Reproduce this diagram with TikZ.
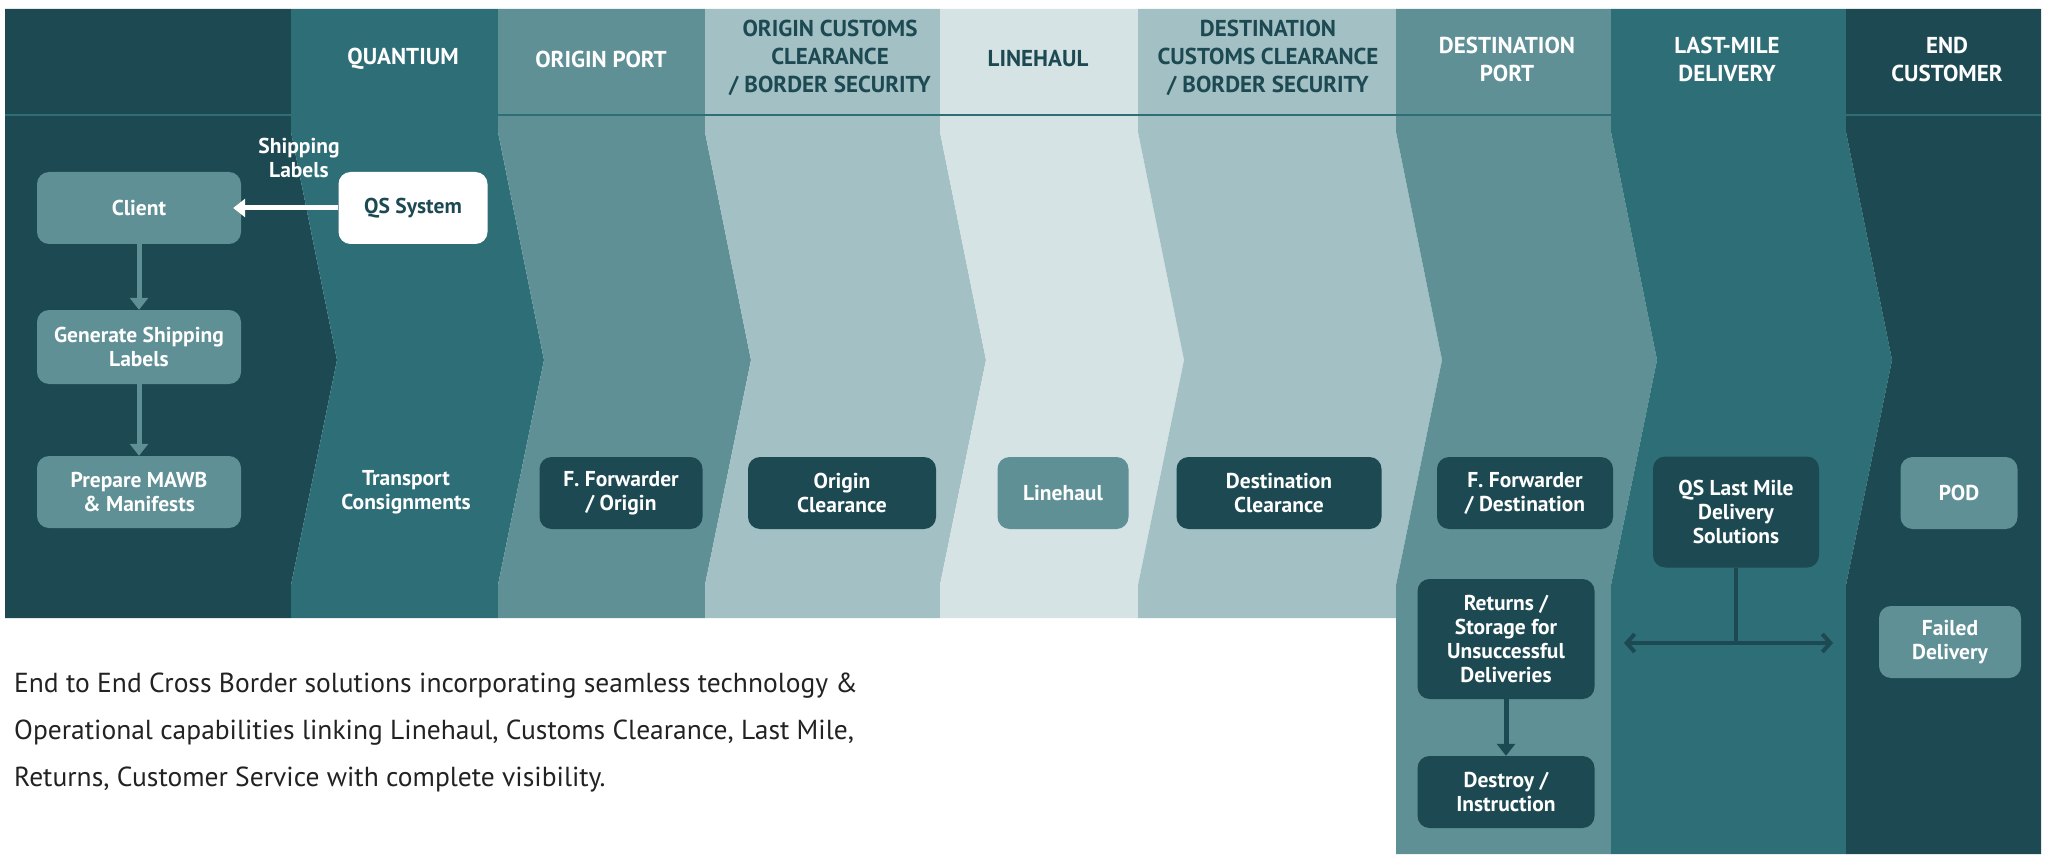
\documentclass[tikz,border=0pt]{standalone}
\usepackage{fontspec}
\setmainfont{PT Sans}
\usetikzlibrary{arrows.meta}
\definecolor{c1}{HTML}{1D4A52}
\definecolor{c2}{HTML}{2E6E77}
\definecolor{c3}{HTML}{5F9096}
\definecolor{c4}{HTML}{A3C0C4}
\definecolor{c5}{HTML}{D6E3E5}
\definecolor{txt}{HTML}{222222}
\begin{document}
\begin{tikzpicture}[x=1pt,y=-1pt,
  box/.style={rounded corners=12pt,align=center,font=\fontsize{21.5}{24}\selectfont\bfseries,inner sep=0pt},
  dbox/.style={box,fill=c1,text=white},
  lbox/.style={box,fill=c3,text=white},
  hd/.style={align=center,font=\fontsize{23}{28}\selectfont\bfseries},
  ar/.style={line width=5pt,-{Triangle[width=18pt,length=12pt]}}]
\useasboundingbox (0,0) rectangle (2048,861);
\fill[c1] (5,9) -- (291,9) -- (291,132) -- (337,360) -- (291,585) -- (291,618) -- (5,618) -- cycle;
\foreach \a/\b/\c in {291/498/c2,498/705/c3,705/940/c4,940/1138/c5,1138/1396/c4}{
  \fill[\c] (\a,9) -- (\b,9) -- (\b,132) -- (\b+46,360) -- (\b,585) -- (\b,618) -- (\a,618) -- (\a,585) -- (\a+46,360) -- (\a,132) -- cycle;}
\foreach \a/\b/\c in {1396/1611/c3,1611/1846/c2}{
  \fill[\c] (\a,9) -- (\b,9) -- (\b,132) -- (\b+46,360) -- (\b,585) -- (\b,854) -- (\a,854) -- (\a,585) -- (\a+46,360) -- (\a,132) -- cycle;}
\fill[c1] (1846,9) -- (2041,9) -- (2041,854) -- (1846,854) -- (1846,585) -- (1892,360) -- (1846,132) -- cycle;
\draw[c2,line width=2pt] (5,115) -- (2041,115);
% headers
\node[hd,text=white] (h1) at (403,59) {QUANTIUM};
\node[hd,text=white] (h2) at (601,59) {ORIGIN PORT};
\node[hd,text=c1] (h3) at (830,58) {ORIGIN CUSTOMS\\CLEARANCE\\/ BORDER SECURITY};
\node[hd,text=c1] (h4) at (1038,59) {LINEHAUL};
\node[hd,text=c1] (h5) at (1268,58) {DESTINATION\\CUSTOMS CLEARANCE\\/ BORDER SECURITY};
\node[hd,text=white] (h6) at (1507,59) {DESTINATION\\PORT};
\node[hd,text=white] (h7) at (1727,59) {LAST-MILE\\DELIVERY};
\node[hd,text=white] (h8) at (1947,59) {END\\CUSTOMER};
% nodes
\node[lbox,minimum width=204pt,minimum height=72pt] (client) at (139,208) {Client};
\node[lbox,minimum width=204pt,minimum height=74pt] (gen) at (139,347) {Generate Shipping\\Labels};
\node[lbox,minimum width=204pt,minimum height=72pt] (mawb) at (139,492) {Prepare MAWB\\\& Manifests};
\node[box,fill=white,text=c1,minimum width=149pt,minimum height=72pt] (qs) at (413,208) {QS System};
\node[box,text=white] (sl) at (299,158) {Shipping\\Labels};
\node[box,text=white] (tc) at (406,492) {Transport\\Consignments};
\node[dbox,minimum width=163pt,minimum height=72pt] (ffo) at (621,493) {F. Forwarder\\/ Origin};
\node[dbox,minimum width=188pt,minimum height=72pt] (oc) at (842,493) {Origin\\Clearance};
\node[lbox,minimum width=131pt,minimum height=72pt] (lh) at (1063,493) {Linehaul};
\node[dbox,minimum width=205pt,minimum height=72pt] (dc) at (1279,493) {Destination\\Clearance};
\node[dbox,minimum width=176pt,minimum height=72pt] (ffd) at (1525,493) {F. Forwarder\\/ Destination};
\node[dbox,minimum width=166pt,minimum height=111pt] (qslm) at (1736,512) {QS Last Mile\\Delivery\\Solutions};
\node[lbox,minimum width=117pt,minimum height=72pt] (pod) at (1959,493) {POD};
\node[lbox,minimum width=142pt,minimum height=72pt] (fd) at (1950,642) {Failed\\Delivery};
\node[dbox,minimum width=177pt,minimum height=120pt] (ret) at (1506,639) {Returns /\\Storage for\\Unsuccessful\\Deliveries};
\node[dbox,minimum width=177pt,minimum height=72pt] (des) at (1506,792) {Destroy /\\Instruction};
\coordinate (jn) at (1736,643);
\coordinate (jl) at (1624,643);
\coordinate (jr) at (1833,643);
% connectors
\draw[ar,white] (qs) -- ([xshift=-8pt]client.east);
\draw[ar,c3] (client) -- (gen);
\draw[ar,c3] (gen) -- (mawb);
\draw[ar,c1] (ret) -- (des);
\draw[c1,line width=4pt] (qslm) -- (jn);
\draw[c1,line width=4pt,{Straight Barb[length=8pt,width=18pt]}-{Straight Barb[length=8pt,width=18pt]}] (jl) -- (jr);
% caption
\node[anchor=west,align=left,text=txt,font=\fontsize{27.5}{47}\selectfont,inner sep=0pt] (cap) at (14,733) {End to End Cross Border solutions incorporating seamless technology \&\\Operational capabilities linking Linehaul, Customs Clearance, Last Mile,\\Returns, Customer Service with complete visibility.};
\end{tikzpicture}
\end{document}
